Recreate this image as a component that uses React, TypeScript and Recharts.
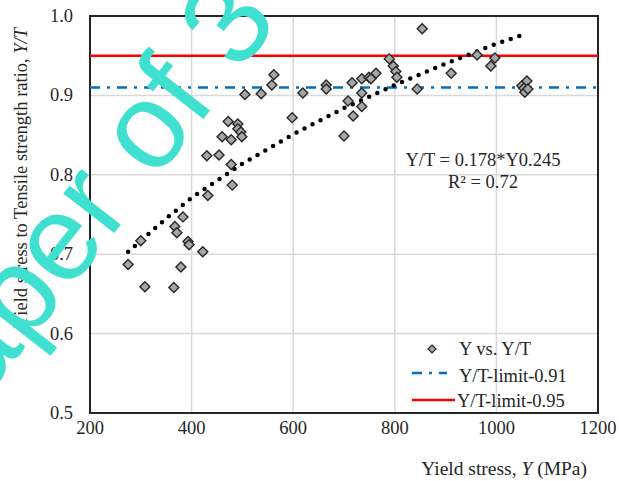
import React from "react";
import {
  ScatterChart,
  Scatter,
  XAxis,
  YAxis,
  CartesianGrid,
  ReferenceLine,
  ReferenceArea,
} from "recharts";

// measured specimens: yield stress Y (MPa) and Y/T ratio
const yieldStress = [
  275, 308, 365, 379, 422, 393, 395, 300, 367, 371, 383, 432, 430, 454, 478, 480,
  460, 478, 472, 491, 491, 497, 499, 505, 537, 558, 562, 598, 619, 665, 665, 700,
  708, 718, 716, 735, 735, 735, 749, 753, 763, 789, 797, 802, 804, 844, 854, 911,
  962, 989, 997, 1050, 1060, 1054, 1056, 1062,
];
const ytRatio = [
  0.687, 0.659, 0.658, 0.684, 0.703, 0.716, 0.712, 0.717, 0.735, 0.727, 0.747, 0.774,
  0.824, 0.825, 0.813, 0.787, 0.848, 0.844, 0.867, 0.864, 0.858, 0.854, 0.848, 0.901,
  0.902, 0.913, 0.926, 0.872, 0.903, 0.913, 0.908, 0.849, 0.893, 0.874, 0.916, 0.886,
  0.903, 0.921, 0.923, 0.921, 0.928, 0.946, 0.937, 0.93, 0.923, 0.908, 0.984, 0.928,
  0.951, 0.937, 0.947, 0.912, 0.918, 0.909, 0.904, 0.908,
];

// power trendline
const trendY = [275, 300, 350, 400, 500, 600, 700, 800, 900, 1000, 1060];
const trendRatio = [0.703, 0.717, 0.745, 0.771, 0.814, 0.851, 0.884, 0.913, 0.94, 0.965, 0.978];

const xTicks = [200, 400, 600, 800, 1000, 1200];
const yTicks = [0.5, 0.6, 0.7, 0.8, 0.9, 1.0];
const limits = [0.91, 0.95];

const points = yieldStress.map((x, i) => ({ x, y: ytRatio[i] }));
const trend = trendY.map((x, i) => ({ x, y: trendRatio[i] }));

const FONT = "Liberation Serif";
const INK = "#262626";

const Diamond = (props: any) => {
  const { cx, cy } = props;
  const r = 5;
  return (
    <polygon
      points={`${cx},${cy - r} ${cx + r},${cy} ${cx},${cy + r} ${cx - r},${cy}`}
      fill="#a6a6a6"
      stroke={INK}
      strokeWidth={1.4}
    />
  );
};

const NoDot = () => <g />;

const XTick = ({ x, y, payload }: any) => (
  <text x={x} y={y + 21} textAnchor="middle" fontFamily={FONT} fontSize={18.5} fill={INK}>
    {payload.value}
  </text>
);

const YTick = ({ x, y, payload }: any) => (
  <text x={x} y={y + 6} textAnchor="end" fontFamily={FONT} fontSize={18.5} fill={INK}>
    {Number(payload.value).toFixed(1)}
  </text>
);

export default function App() {
  return (
    <div
      style={{
        position: "absolute",
        left: 0,
        top: 0,
        width: 619,
        height: 481,
        background: "#fff",
        fontFamily: FONT,
      }}
    >
      <ScatterChart width={619} height={481} margin={{ top: 16, right: 21, bottom: 38, left: 30 }}>
        <CartesianGrid stroke="#d9d9d9" strokeWidth={1.5} />
        <XAxis
          type="number"
          dataKey="x"
          domain={[200, 1200]}
          ticks={xTicks}
          height={30}
          tickLine={false}
          axisLine={false}
          tickSize={0}
          tickMargin={0}
          tick={<XTick />}
        />
        <YAxis
          type="number"
          dataKey="y"
          domain={[0.5, 1.0]}
          ticks={yTicks}
          width={60}
          tickLine={false}
          axisLine={false}
          tickSize={0}
          tickMargin={17}
          tick={<YTick />}
        />
        <ReferenceLine y={limits[0]} stroke="#0070c0" strokeWidth={2.5} strokeDasharray="10 7 3 7" />
        <ReferenceLine y={limits[1]} stroke="#ff0000" strokeWidth={2.5} />
        <ReferenceArea x1={200} x2={1200} y1={0.5} y2={1.0} fill="none" stroke={INK} strokeWidth={2} />
        <Scatter
          data={trend}
          shape={NoDot}
          line={{ stroke: "#000", strokeWidth: 4.5, strokeDasharray: "0 9", strokeLinecap: "round" }}
          lineType="joint"
          isAnimationActive={false}
        />
        <Scatter data={points} shape={Diamond} isAnimationActive={false} />
      </ScatterChart>

      <svg
        width={619}
        height={481}
        style={{ position: "absolute", left: 0, top: 0, pointerEvents: "none" }}
      >
        <g fontFamily={FONT} fontSize={18.5} fill={INK}>
          <text x={27} y={178} textAnchor="middle" transform="rotate(-90, 27, 178)">
            Yield stress to Tensile strength ratio, <tspan fontStyle="italic">Y/T</tspan>
          </text>
          <text x={587} y={475} textAnchor="end" fontSize={19.5}>
            Yield stress, <tspan fontStyle="italic">Y</tspan> (MPa)
          </text>
          <text x={483} y={166} textAnchor="middle">Y/T = 0.178*Y0.245</text>
          <text x={483} y={188} textAnchor="middle">R² = 0.72</text>

          {/* legend */}
          <polygon points="432,345 436,349 432,353 428,349" fill="#a6a6a6" stroke={INK} strokeWidth={1.2} />
          <text x={459} y={355}>Y vs. Y/T</text>
          <line x1={412} x2={447} y1={373} y2={373} stroke="#0070c0" strokeWidth={2.5} strokeDasharray="10 7 3 7" />
          <text x={459} y={382}>Y/T-limit-0.91</text>
          <line x1={412} x2={455} y1={400} y2={400} stroke="#ff0000" strokeWidth={2.5} />
          <text x={457} y={407}>Y/T-limit-0.95</text>
        </g>
        <g
          transform="translate(155, 181) rotate(-52)"
          fontFamily="Liberation Sans"
          fontSize={122}
          fill="#40e0d0"
        >
          <text x={-34} y={0} textAnchor="end">paper</text>
          <text x={0} y={0}>of 3</text>
        </g>
      </svg>
    </div>
  );
}
